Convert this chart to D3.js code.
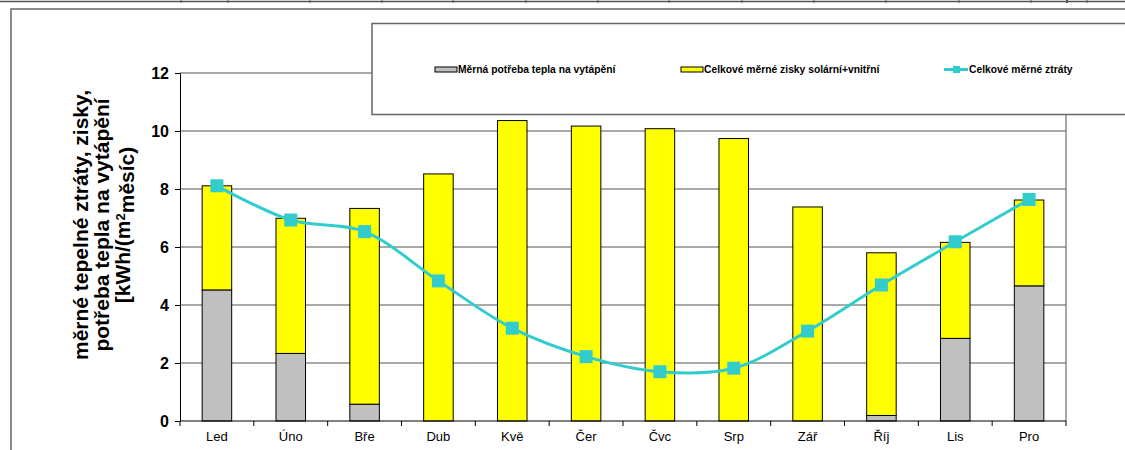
<!DOCTYPE html>
<html>
<head>
<meta charset="utf-8">
<title>Měrné ztráty a zisky</title>
<script src="https://cdn.jsdelivr.net/npm/d3@7"></script>
<style>
body {margin:0; background:#fff;}
svg {display:block; font-family:"Liberation Sans", Arial, sans-serif;}
</style>
</head>
<body>
<script>

// data
var months  = ["Led","Úno","Bře","Dub","Kvě","Čer","Čvc","Srp","Zář","Říj","Lis","Pro"];
var heating = [4.52, 2.33, 0.58, 0, 0, 0, 0, 0, 0, 0.19, 2.85, 4.66];
var gains   = [3.59, 4.66, 6.75, 8.52, 10.36, 10.17, 10.08, 9.74, 7.38, 5.61, 3.31, 2.96];
var losses  = [8.11, 6.93, 6.53, 4.83, 3.20, 2.22, 1.70, 1.82, 3.10, 4.69, 6.18, 7.64];
var yTicks  = [0, 2, 4, 6, 8, 10, 12];
var legendNames = ["Měrná potřeba tepla na vytápění", "Celkové měrné zisky solární+vnitřní", "Celkové měrné ztráty"];

var W = 1125, H = 450;
var m = {left:180, right:1066, top:73, bottom:421};

var svg = d3.select("body").append("svg")
    .attr("width", W).attr("height", H);

// remnants of the table above the chart
svg.append("line").attr("x1",0).attr("x2",W).attr("y1",1.5).attr("y2",1.5)
    .attr("stroke","#555").attr("stroke-width",1.5);
[181,228,310,382,453,526,598,669,742,814,886,959,1031,1067,1087].forEach(function(x){
  svg.append("line").attr("x1",x).attr("x2",x).attr("y1",0).attr("y2",3)
     .attr("stroke","#555").attr("stroke-width", x==1067 ? 2 : 1);
});

// chart frame
svg.append("rect").attr("x",11).attr("y",9).attr("width",W).attr("height",H)
    .attr("fill","none").attr("stroke","#666").attr("stroke-width",1.5);

var x = d3.scaleBand().domain(months).range([m.left, m.right]).paddingInner(0.6).paddingOuter(0.3);
var xc = function(d){ return x(d) + x.bandwidth()/2; };
var y = d3.scaleLinear().domain([0,12]).range([m.bottom, m.top]);

var g = svg.append("g");

// gridlines
g.selectAll(".grid").data(yTicks.slice(1)).enter().append("line")
    .attr("x1", m.left).attr("x2", m.right)
    .attr("y1", function(d){ return y(d); }).attr("y2", function(d){ return y(d); })
    .attr("stroke","#555").attr("stroke-width",1);
g.append("line").attr("x1",m.right).attr("x2",m.right).attr("y1",m.top).attr("y2",m.bottom)
    .attr("stroke","#555").attr("stroke-width",1);

// stacked bars
var rows = months.map(function(d,i){ return {m:d, h:heating[i], g:gains[i]}; });
g.selectAll(".heat").data(rows).enter().append("rect")
    .filter(function(d){ return d.h > 0; })
    .attr("x", function(d){ return x(d.m); }).attr("width", x.bandwidth())
    .attr("y", function(d){ return y(d.h); })
    .attr("height", function(d){ return y(0) - y(d.h); })
    .attr("fill","#C0C0C0").attr("stroke","#000").attr("stroke-width",1);
g.selectAll(".gain").data(rows).enter().append("rect")
    .attr("x", function(d){ return x(d.m); }).attr("width", x.bandwidth())
    .attr("y", function(d){ return y(d.h + d.g); })
    .attr("height", function(d){ return y(d.h) - y(d.h + d.g); })
    .attr("fill","#FFFF00").attr("stroke","#000").attr("stroke-width",1);

// axes
var yAxis = d3.axisLeft(y).tickValues(yTicks).tickSize(5).tickPadding(6);
var ya = svg.append("g").attr("transform","translate(" + m.left + ",0)").call(yAxis);
ya.selectAll("text").attr("font-size",16).attr("font-weight","bold").attr("fill","#000")
    .style("font-family","Liberation Sans, Arial");
ya.selectAll("line, path").attr("stroke","#000");

var xa = svg.append("g").attr("transform","translate(0," + m.bottom + ")");
xa.append("line").attr("x1",m.left).attr("x2",m.right).attr("stroke","#000");
var bounds = months.map(function(d){ return x(d) - x.step()*0.3; }).concat([m.right]);
xa.selectAll(".tk").data(bounds).enter().append("line")
    .attr("x1", function(d){ return d; }).attr("x2", function(d){ return d; })
    .attr("y1",0).attr("y2",5).attr("stroke","#000");
xa.selectAll(".lb").data(months).enter().append("text")
    .attr("x", xc).attr("y", 20).attr("text-anchor","middle")
    .attr("font-size",13).text(function(d){ return d; });

// loss line
var line = d3.line().x(function(d,i){ return xc(months[i]); }).y(function(d){ return y(d); })
    .curve(d3.curveCatmullRom.alpha(0.5));
g.append("path").datum(losses).attr("d", line)
    .attr("fill","none").attr("stroke","#33CCCC").attr("stroke-width",3);
g.selectAll(".mk").data(losses).enter().append("rect")
    .attr("x", function(d,i){ return xc(months[i]) - 6.5; })
    .attr("y", function(d){ return y(d) - 6.5; })
    .attr("width",13).attr("height",13).attr("fill","#33CCCC");

// y title
var yt = svg.append("text").attr("transform","translate(102,225) rotate(-90)")
    .attr("text-anchor","middle").attr("font-size",21).attr("font-weight","bold");
yt.append("tspan").attr("x",0).attr("dy","-0.65em").text("měrné tepelné ztráty, zisky,");
yt.append("tspan").attr("x",0).attr("dy","1.0em").text("potřeba tepla na vytápění");
yt.append("tspan").attr("x",0).attr("dy","1.0em").text("[kWh/(m");
yt.append("tspan").attr("dy","-0.45em").attr("font-size",13).text("2");
yt.append("tspan").attr("dy","0.45em").text("měsíc)");

// legend
var lg = svg.append("g");
lg.append("rect").attr("x",372).attr("y",23.5).attr("width",800).attr("height",91)
    .attr("fill","#fff").attr("stroke","#666").attr("stroke-width",1.5);
var lx = [435, 681, 944];
lg.append("rect").attr("x",lx[0]).attr("y",67).attr("width",22).attr("height",5)
    .attr("fill","#C0C0C0").attr("stroke","#000");
lg.append("rect").attr("x",lx[1]).attr("y",67).attr("width",22).attr("height",5)
    .attr("fill","#FFFF00").attr("stroke","#000");
lg.append("line").attr("x1",lx[2]).attr("x2",lx[2]+24).attr("y1",69.5).attr("y2",69.5)
    .attr("stroke","#33CCCC").attr("stroke-width",3);
lg.append("rect").attr("x",lx[2]+9).attr("y",66).attr("width",7).attr("height",7).attr("fill","#33CCCC");
lg.selectAll(".lt").data(legendNames).enter().append("text")
    .attr("x", function(d,i){ return lx[i] + (i==2 ? 25 : 23); }).attr("y",73)
    .attr("font-size",10.3).attr("font-weight","bold").text(function(d){ return d; });

</script>
</body>
</html>
